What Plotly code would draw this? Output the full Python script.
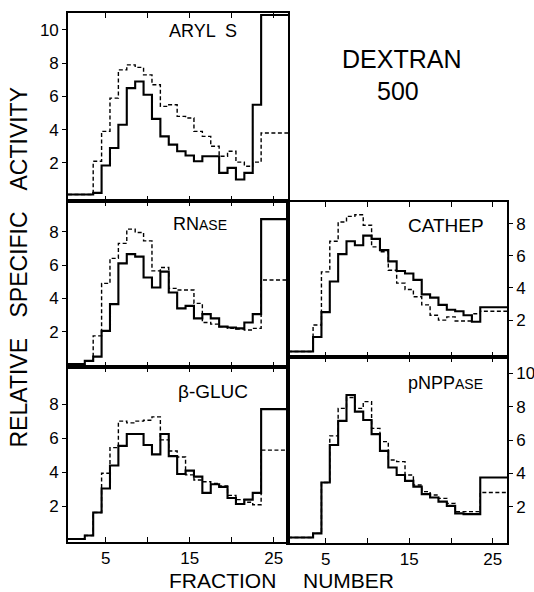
import plotly.graph_objects as go

W, H = 534, 592

# ---------------- data ----------------
# fractions 1..23 are plotted one by one, the tail (24-26) is one pooled bin
fractions = list(range(1, 24))
pooled_start, pooled_end = 23.5, 26.7

aryl_solid = [0.1, 0.1, 0.1, 0.2, 1.85, 2.9, 4.3, 6.5, 6.9, 6.1, 4.65, 3.6, 3.1, 2.7,
              2.45, 2.1, 2.4, 2.4, 1.4, 1.7, 1.0, 1.4, 5.5, 10.9]
aryl_dashed = [0.1, 0.1, 0.1, 2.1, 3.9, 5.9, 7.6, 7.9, 7.75, 7.3, 6.7, 5.4, 5.5, 4.8,
               4.7, 3.9, 3.6, 3.0, 2.4, 2.7, 2.05, 1.8, 2.05, 3.8]

rnase_solid = [0.05, 0.05, 0.25, 0.5, 2.05, 3.65, 6.1, 6.65, 6.5, 5.25, 4.65, 5.6, 4.35,
               3.4, 3.55, 2.8, 3.05, 2.8, 2.3, 2.25, 2.2, 2.55, 3.05, 8.75]
rnase_dashed = [0.05, 0.05, 0.25, 1.75, 4.9, 6.4, 7.3, 8.15, 7.95, 7.45, 5.65, 5.85, 4.6,
                4.5, 4.5, 3.7, 2.55, 2.45, 2.3, 2.2, 2.15, 2.1, 2.2, 5.1]

gluc_solid = [0.1, 0.1, 0.3, 1.65, 3.05, 4.4, 5.55, 6.25, 6.25, 5.6, 5.05, 6.25, 4.95,
              3.9, 4.1, 3.75, 2.8, 3.3, 3.15, 2.5, 2.15, 2.4, 2.8, 7.7]
gluc_dashed = [0.1, 0.1, 0.3, 1.65, 3.95, 5.45, 7.0, 6.9, 7.0, 7.05, 7.25, 5.9, 5.25,
               4.9, 3.85, 3.55, 3.45, 3.35, 3.2, 2.65, 2.4, 2.25, 2.1, 5.3]

cathep_solid = [0.05, 0.05, 0.05, 0.95, 2.5, 4.4, 6.1, 6.9, 6.65, 7.25, 7.05, 6.35, 5.65,
                5.05, 4.9, 4.5, 3.6, 3.4, 2.95, 2.65, 2.55, 2.3, 1.9, 2.8]
cathep_dashed = [0.05, 0.05, 0.05, 1.7, 5.0, 6.9, 8.1, 8.45, 8.55, 7.9, 6.55, 6.25, 5.1,
                 4.3, 3.9, 3.45, 2.95, 2.3, 2.0, 2.2, 1.95, 1.95, 2.4, 2.55]

pnpp_solid = [0.15, 0.15, 0.15, 0.4, 3.45, 5.7, 7.15, 8.7, 7.7, 7.2, 6.35, 5.35, 4.35,
              3.9, 3.55, 3.2, 2.75, 2.55, 2.3, 2.05, 1.6, 1.55, 1.55, 3.75]
pnpp_dashed = [0.15, 0.15, 0.15, 0.4, 3.45, 6.25, 7.9, 8.55, 7.9, 8.3, 6.7, 5.9, 4.8,
               4.7, 3.9, 3.3, 2.9, 2.7, 2.5, 2.2, 1.7, 1.7, 1.7, 2.85]

x_tickvals = [5, 10, 15, 20, 25]
x_ticktext = ["5", "", "15", "", "25"]
y_ticks_10 = [2, 4, 6, 8, 10]
y_ticks_8 = [2, 4, 6, 8]

# ---------------- layout helpers ----------------
FONT = "Liberation Sans, Arial, sans-serif"


def step_xy(vals):
    xs = [f - 0.5 for f in fractions] + [pooled_start, pooled_end]
    ys = list(vals) + [vals[-1]]
    return xs, ys


def dx(p):
    return p / W


def dy(p):
    return 1 - p / H


panels = [
    dict(solid=aryl_solid, dashed=aryl_dashed, xd=(68, 288), yd=(13, 201),
         yr=(-0.29, 11.02), yt=y_ticks_10, side="left", bottom=False),
    dict(solid=rnase_solid, dashed=rnase_dashed, xd=(68, 288), yd=(201, 367),
         yr=(-0.12, 9.84), yt=y_ticks_8, side="left", bottom=False),
    dict(solid=gluc_solid, dashed=gluc_dashed, xd=(68, 288), yd=(367, 542),
         yr=(-0.08, 10.17), yt=y_ticks_8, side="left", bottom=True),
    dict(solid=cathep_solid, dashed=cathep_dashed, xd=(288, 507), yd=(202, 357),
         yr=(-0.29, 9.34), yt=y_ticks_8, side="right", bottom=False),
    dict(solid=pnpp_solid, dashed=pnpp_dashed, xd=(288, 507), yd=(357, 543),
         yr=(-0.18, 10.98), yt=y_ticks_10, side="right", bottom=True),
]

fig = go.Figure()
layout = {}

for i, p in enumerate(panels, start=1):
    xa = "x" if i == 1 else f"x{i}"
    ya = "y" if i == 1 else f"y{i}"
    xs, ys = step_xy(p["dashed"])
    fig.add_trace(go.Scatter(x=xs, y=ys, mode="lines", line_shape="hv",
                             line=dict(color="black", width=1.4, dash="4px,2.5px"),
                             xaxis=xa, yaxis=ya, hoverinfo="skip"))
    xs, ys = step_xy(p["solid"])
    fig.add_trace(go.Scatter(x=xs, y=ys, mode="lines", line_shape="hv",
                             line=dict(color="black", width=2.1),
                             xaxis=xa, yaxis=ya, hoverinfo="skip"))

    xkey = "xaxis" if i == 1 else f"xaxis{i}"
    ykey = "yaxis" if i == 1 else f"yaxis{i}"
    layout[xkey] = dict(
        domain=[dx(p["xd"][0]), dx(p["xd"][1])], anchor=ya, range=[0.5, 26.7],
        tickvals=x_tickvals, ticktext=x_ticktext, ticks="inside", ticklen=5,
        tickwidth=1.3, tickcolor="black", mirror="ticks", showline=True,
        linecolor="black", linewidth=1.6, showgrid=False, zeroline=False,
        showticklabels=p["bottom"], tickfont=dict(family=FONT, size=17, color="black"),
        fixedrange=True)
    layout[ykey] = dict(
        domain=[dy(p["yd"][1]), dy(p["yd"][0])], anchor=xa, range=list(p["yr"]),
        tickvals=p["yt"], ticktext=[str(v) for v in p["yt"]], ticks="outside",
        ticklen=4, tickwidth=1.3, tickcolor="black", side=p["side"], mirror=True,
        showline=True, linecolor="black", linewidth=1.6, showgrid=False,
        zeroline=False, tickfont=dict(family=FONT, size=17, color="black"),
        fixedrange=True)

annotations = []


def ann(text, x, y, size, angle=0):
    annotations.append(dict(text=text, x=dx(x), y=dy(y), xref="paper", yref="paper",
                            xanchor="center", yanchor="middle", showarrow=False,
                            textangle=angle,
                            font=dict(family=FONT, size=size, color="black")))


ann("ARYL  S", 203, 31.5, 18)
ann("RN<span style='font-size:14px'>ASE</span>", 200, 223.5, 18)
ann("β-GLUC", 213, 391, 19)
ann("CATHEP", 445.5, 225, 19)
ann("pNPP<span style='font-size:14px'>ASE</span>", 445.5, 383, 18)
ann("DEXTRAN", 401, 59, 25)
ann("500", 398, 91.5, 25)
ann("ACTIVITY", 18.5, 139, 23, -90)
ann("SPECIFIC", 18.5, 265, 23, -90)
ann("RELATIVE", 18.5, 393, 23, -90)
ann("FRACTION", 222, 580, 21)
ann("NUMBER", 348, 580, 21)

fig.update_layout(
    width=W, height=H, margin=dict(l=0, r=0, t=0, b=0),
    paper_bgcolor="white", plot_bgcolor="white", showlegend=False,
    annotations=annotations, **layout)

fig.write_html("out.html", config={"displayModeBar": False},
               post_script="document.body.style.margin='0px';"
                           "document.body.style.overflow='hidden';")
